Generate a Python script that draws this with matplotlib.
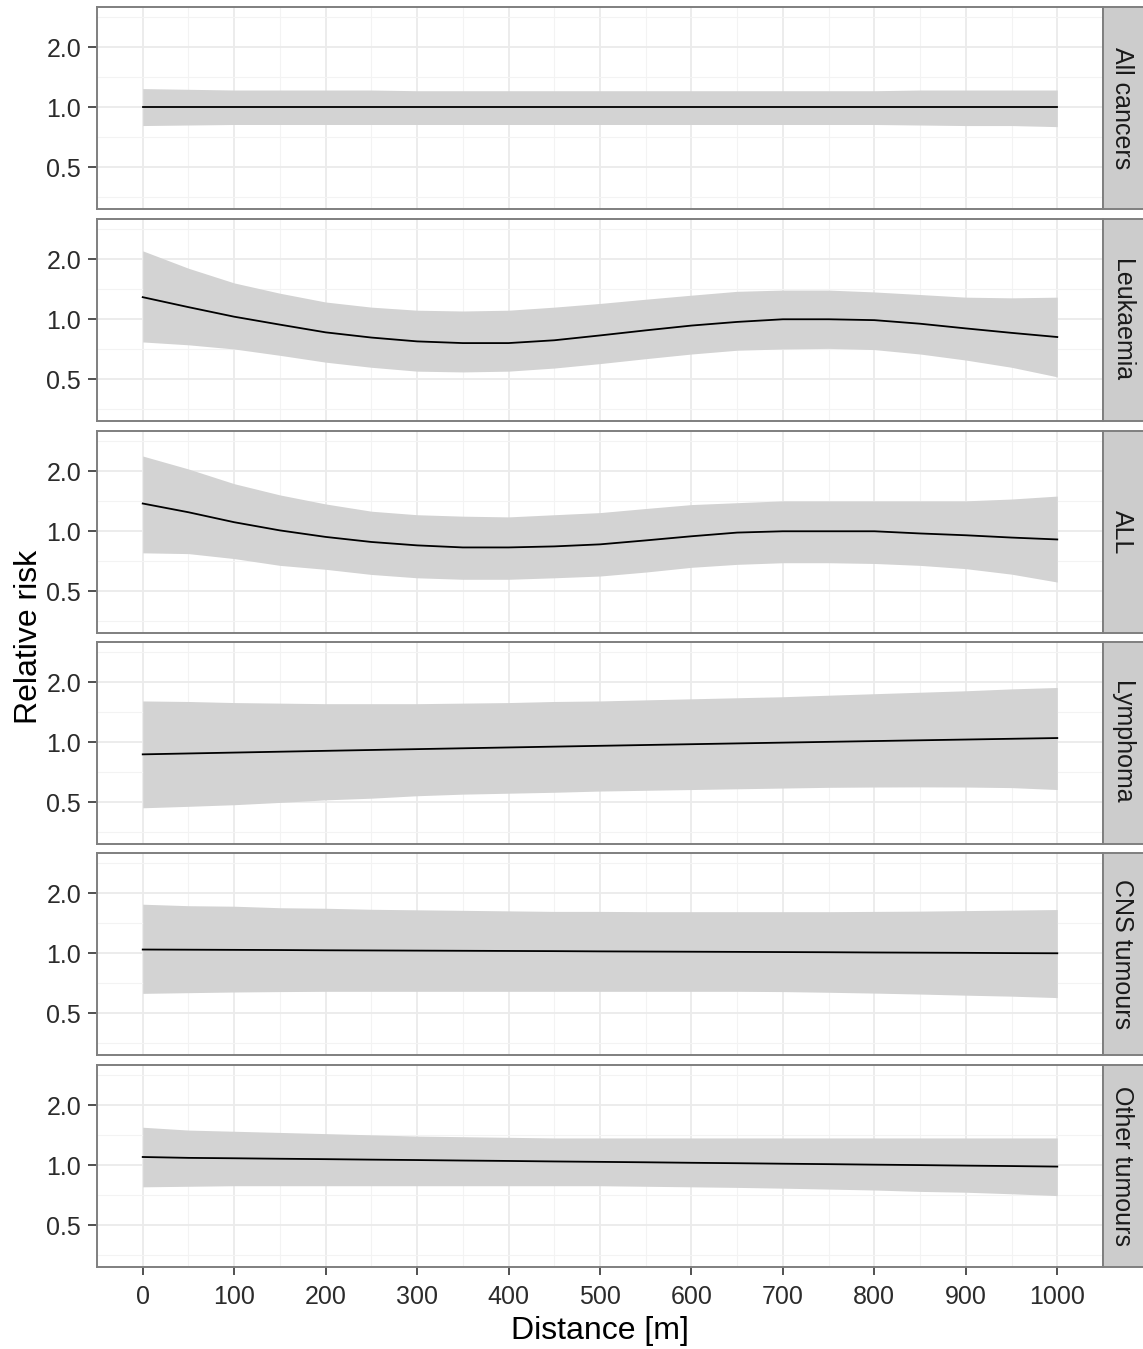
import matplotlib
matplotlib.use("Agg")
import matplotlib.pyplot as plt
from matplotlib.ticker import FixedLocator, NullFormatter

plt.rcParams['font.family'] = ['Liberation Sans', 'DejaVu Sans']

# distance grid (m) at which the curves were read
distance = [0, 50, 100, 150, 200, 250, 300, 350, 400, 450, 500,
            550, 600, 650, 700, 750, 800, 850, 900, 950, 1000]

panel_names = ["All cancers", "Leukaemia", "ALL", "Lymphoma", "CNS tumours", "Other tumours"]

# relative risk, lower and upper bands per outcome
all_rr = [1.0] * 21
all_lo = [0.81, 0.815, 0.82, 0.82, 0.82, 0.82, 0.82, 0.82, 0.82, 0.82, 0.82,
          0.82, 0.82, 0.82, 0.82, 0.82, 0.82, 0.815, 0.81, 0.81, 0.80]
all_hi = [1.24, 1.23, 1.22, 1.22, 1.22, 1.22, 1.21, 1.21, 1.21, 1.21, 1.21,
          1.21, 1.21, 1.21, 1.21, 1.21, 1.21, 1.22, 1.22, 1.22, 1.22]

leuk_rr = [1.29, 1.15, 1.03, 0.94, 0.86, 0.81, 0.775, 0.76, 0.76, 0.785, 0.83,
           0.88, 0.93, 0.97, 1.0, 1.0, 0.99, 0.95, 0.90, 0.855, 0.815]
leuk_lo = [0.77, 0.745, 0.71, 0.66, 0.61, 0.575, 0.55, 0.545, 0.55, 0.57, 0.60,
           0.635, 0.67, 0.70, 0.71, 0.715, 0.705, 0.67, 0.625, 0.575, 0.515]
leuk_hi = [2.2, 1.8, 1.52, 1.35, 1.22, 1.15, 1.11, 1.10, 1.11, 1.15, 1.2,
           1.26, 1.32, 1.38, 1.40, 1.40, 1.37, 1.33, 1.29, 1.28, 1.29]

acute_rr = [1.377, 1.245, 1.11, 1.01, 0.937, 0.884, 0.85, 0.83, 0.83, 0.84, 0.86,
            0.90, 0.944, 0.985, 1.0, 1.0, 1.0, 0.975, 0.955, 0.93, 0.91]
acute_lo = [0.78, 0.773, 0.73, 0.675, 0.645, 0.608, 0.585, 0.575, 0.575, 0.585, 0.597,
            0.625, 0.66, 0.683, 0.696, 0.696, 0.69, 0.675, 0.65, 0.61, 0.557]
acute_hi = [2.38, 2.05, 1.73, 1.52, 1.37, 1.26, 1.21, 1.19, 1.18, 1.21, 1.24,
            1.30, 1.36, 1.39, 1.42, 1.42, 1.42, 1.42, 1.42, 1.45, 1.50]

lymph_rr = [0.870, 0.879, 0.888, 0.897, 0.906, 0.915, 0.924, 0.933, 0.942, 0.951, 0.960,
            0.969, 0.978, 0.987, 0.996, 1.005, 1.014, 1.023, 1.032, 1.041, 1.050]
lymph_lo = [0.47, 0.478, 0.487, 0.50, 0.515, 0.525, 0.54, 0.55, 0.556, 0.562, 0.57,
            0.575, 0.58, 0.585, 0.59, 0.595, 0.597, 0.598, 0.597, 0.593, 0.58]
lymph_hi = [1.61, 1.60, 1.58, 1.57, 1.56, 1.56, 1.56, 1.57, 1.58, 1.60, 1.61,
            1.63, 1.65, 1.67, 1.69, 1.72, 1.75, 1.78, 1.81, 1.85, 1.88]

cns_rr = [1.044, 1.042, 1.040, 1.038, 1.035, 1.033, 1.031, 1.029, 1.027, 1.025, 1.022,
          1.020, 1.018, 1.016, 1.014, 1.012, 1.009, 1.007, 1.005, 1.002, 1.000]
cns_lo = [0.63, 0.635, 0.64, 0.643, 0.645, 0.645, 0.645, 0.645, 0.645, 0.645, 0.645,
          0.645, 0.645, 0.645, 0.643, 0.638, 0.632, 0.625, 0.617, 0.61, 0.60]
cns_hi = [1.76, 1.73, 1.72, 1.69, 1.68, 1.66, 1.65, 1.64, 1.63, 1.62, 1.62,
          1.615, 1.615, 1.615, 1.615, 1.615, 1.62, 1.625, 1.635, 1.645, 1.655]

other_rr = [1.10, 1.089, 1.084, 1.078, 1.073, 1.067, 1.062, 1.056, 1.051, 1.045, 1.04,
            1.035, 1.029, 1.024, 1.018, 1.013, 1.007, 1.002, 0.996, 0.991, 0.985]
other_lo = [0.78, 0.785, 0.79, 0.79, 0.79, 0.79, 0.79, 0.79, 0.79, 0.79, 0.79,
            0.785, 0.78, 0.775, 0.768, 0.76, 0.752, 0.74, 0.733, 0.72, 0.705]
other_hi = [1.55, 1.50, 1.48, 1.46, 1.44, 1.42, 1.40, 1.39, 1.38, 1.37, 1.37,
            1.37, 1.37, 1.37, 1.37, 1.37, 1.37, 1.37, 1.37, 1.37, 1.37]

rr = [all_rr, leuk_rr, acute_rr, lymph_rr, cns_rr, other_rr]
lo = [all_lo, leuk_lo, acute_lo, lymph_lo, cns_lo, other_lo]
hi = [all_hi, leuk_hi, acute_hi, lymph_hi, cns_hi, other_hi]

y_ticks = [0.5, 1.0, 2.0]
y_ticklabels = ["0.5", "1.0", "2.0"]
x_ticks = list(range(0, 1001, 100))

W, H = 1143, 1349
fig = plt.figure(figsize=(W / 100, H / 100), dpi=100)

left, right = 97, 1103
tops = [7, 219, 431, 642, 853, 1065]
ph = 201.5
border = '#7f7f7f'
tickcol = '#2b2b2b'

for i, name in enumerate(panel_names):
    top = tops[i]
    ax = fig.add_axes([left / W, 1 - (top + ph) / H, (right - left) / W, ph / H])
    ax.fill_between(distance, lo[i], hi[i], color='#d3d3d3', lw=0, zorder=2)
    ax.plot(distance, rr[i], color='black', lw=1.3, zorder=3)

    ax.set_yscale('log')
    ax.set_ylim(2 ** -1.683, 2 ** 1.667)
    ax.set_xlim(-50, 1050)
    ax.yaxis.set_major_locator(FixedLocator(y_ticks))
    ax.set_yticklabels(y_ticklabels)
    ax.yaxis.set_minor_locator(FixedLocator([2 ** -1.5, 2 ** -0.5, 2 ** 0.5, 2 ** 1.5]))
    ax.yaxis.set_minor_formatter(NullFormatter())
    ax.set_xticks(x_ticks)
    ax.set_xticks(list(range(-50, 1051, 100)), minor=True)

    ax.set_axisbelow(True)
    ax.grid(True, which='major', color='#ebebeb', lw=1.3)
    ax.grid(True, which='minor', color='#f3f3f3', lw=0.8)
    ax.tick_params(which='minor', length=0)
    ax.tick_params(axis='y', which='major', length=6.5, width=1.2, color='#333333',
                   labelsize=18, labelcolor=tickcol, pad=5)
    if i == len(panel_names) - 1:
        ax.tick_params(axis='x', which='major', length=6, width=1.2, color='#333333',
                       labelsize=18, labelcolor=tickcol, pad=7)
    else:
        ax.tick_params(axis='x', which='major', length=0, labelbottom=False)
    for s in ax.spines.values():
        s.set_color(border)
        s.set_linewidth(1.4)

    # facet strip on the right
    st = fig.add_axes([right / W, 1 - (top + ph) / H, 43 / W, ph / H])
    st.set_facecolor('#cccccc')
    st.set_xticks([])
    st.set_yticks([])
    for s in st.spines.values():
        s.set_color(border)
        s.set_linewidth(1.4)
    st.text(0.45, 0.5, name, rotation=-90, ha='center', va='center',
            fontsize=18, color='#1a1a1a', transform=st.transAxes)

fig.text(29 / W, 1 - 637 / H, "Relative risk", rotation=90, ha='center', va='center',
         fontsize=23, color='black')
fig.text(600 / W, 1 - 1331 / H, "Distance [m]", ha='center', va='center',
         fontsize=23, color='black')

fig.savefig('out.png', dpi=100)
